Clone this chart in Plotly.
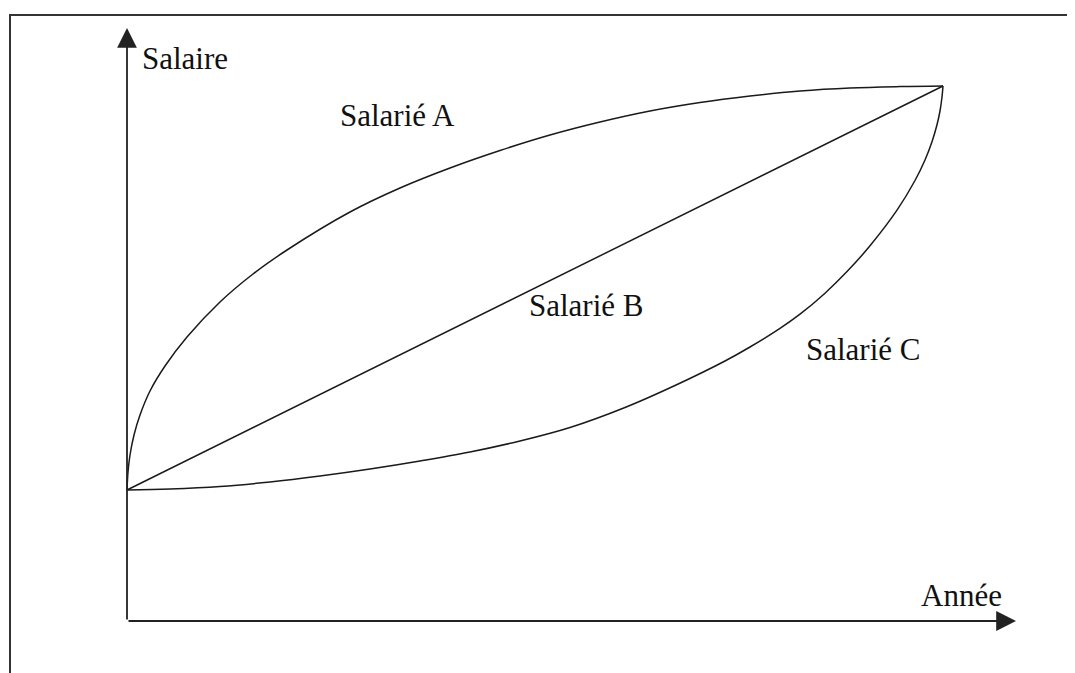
import plotly.graph_objects as go

# Schematic data (arbitrary units: année 0..816, salaire 0..535)
annee_A = [0, 1, 3, 7, 13, 23, 38, 60, 93, 126, 160, 223, 273, 323, 373, 423,
           473, 523, 573, 623, 673, 723, 773, 816]
salaire_A = [131, 149, 166, 186, 206, 230, 255, 284, 319, 347, 371, 409, 433, 453,
             470.5, 486, 499, 510, 518.5, 525, 530, 533, 534.4, 535]

annee_B = [0, 816]
salaire_B = [131, 535]

annee_C = [0, 43, 93, 143, 193, 243, 293, 343, 393, 443, 498, 548, 598, 623, 653,
           673, 698, 720, 743, 770, 788, 798, 805, 810, 813, 815, 816]
salaire_C = [131, 132, 134.5, 139, 145, 152, 160, 169, 180, 193.5, 213.5, 235.5,
             260, 274, 292.6, 306.8, 327.8, 349.4, 375.2, 410.8, 440.5, 461, 479.2,
             496.2, 510, 524, 535]

labels = ["Salarié A", "Salarié B", "Salarié C"]
axis_titles = ["Salaire", "Année"]

# page has an 8px body margin; figure is drawn at offset (8, 8)
W, H = 1067, 665
X_MIN, X_MAX = -119, 948
Y_MIN, Y_MAX = -52, 613
X_TIP, Y_TIP = 889, 593

FONT = dict(family="Liberation Serif, Times New Roman, serif", size=31, color="#111")
LINE = dict(color="#1a1a1a", width=1.5)

fig = go.Figure()
fig.add_trace(go.Scatter(x=annee_A, y=salaire_A, mode="lines",
                         line=dict(**LINE, shape="spline", smoothing=1.0), hoverinfo="skip"))
fig.add_trace(go.Scatter(x=annee_B, y=salaire_B, mode="lines", line=LINE, hoverinfo="skip"))
fig.add_trace(go.Scatter(x=annee_C, y=salaire_C, mode="lines",
                         line=dict(**LINE, shape="spline", smoothing=1.0), hoverinfo="skip"))

# axes with arrows
for tx, ty in [(0, Y_TIP), (X_TIP, 0)]:
    fig.add_annotation(x=tx, y=ty, ax=0, ay=0, xref="x", yref="y", axref="x", ayref="y",
                       showarrow=True, arrowhead=2, arrowsize=2.2, arrowwidth=1.8,
                       arrowcolor="#222", text="")

# frame
fig.add_shape(type="path", xref="paper", yref="paper",
              path=f"M {2/W} 0 L {2/W} {1-7/H} L 1 {1-7/H}",
              line=dict(color="#333", width=2))

# texts
fig.add_annotation(x=13, y=563, text=axis_titles[0], showarrow=False,
                   xanchor="left", yanchor="middle", font=FONT)
fig.add_annotation(x=834, y=26, text=axis_titles[1], showarrow=False,
                   xanchor="center", yanchor="middle", font=FONT)
fig.add_annotation(x=270, y=506, text=labels[0], showarrow=False,
                   xanchor="center", yanchor="middle", font=FONT)
fig.add_annotation(x=459, y=316, text=labels[1], showarrow=False,
                   xanchor="center", yanchor="middle", font=FONT)
fig.add_annotation(x=736, y=272, text=labels[2], showarrow=False,
                   xanchor="center", yanchor="middle", font=FONT)

fig.update_layout(width=W, height=H, margin=dict(l=0, r=0, t=0, b=0),
                  paper_bgcolor="white", plot_bgcolor="white", showlegend=False,
                  xaxis=dict(range=[X_MIN, X_MAX], visible=False, fixedrange=True),
                  yaxis=dict(range=[Y_MIN, Y_MAX], visible=False, fixedrange=True))

fig.write_html("out.html", config={"displayModeBar": False})
